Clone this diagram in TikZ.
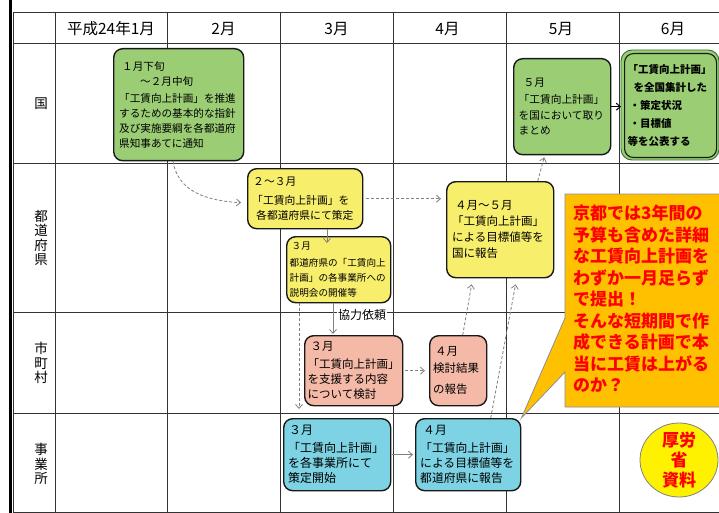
\documentclass[tikz,border=0pt]{standalone}
\usepackage{fontspec}
\setmainfont{Noto Sans CJK JP}
\usetikzlibrary{arrows.meta,shapes.geometric}
\definecolor{gfill}{HTML}{9ACD74}
\definecolor{yfill}{HTML}{F7EE6C}
\definecolor{pfill}{HTML}{F4B9A7}
\definecolor{cfill}{HTML}{7DD3E3}
\definecolor{callfill}{HTML}{FFC000}
\definecolor{callline}{HTML}{8C8C9E}
\definecolor{conn}{HTML}{808080}
\definecolor{gridc}{HTML}{333333}
\newcommand\jfs[2]{\fontsize{#1}{#2}\selectfont}
\begin{document}
\begin{tikzpicture}[x=1pt,y=-1pt,
  box/.style={draw=black!90, line width=1.4pt, rounded corners=9pt, anchor=north west,
              inner xsep=0pt, inner ysep=0pt, align=left, text=black},
  garrow/.style={draw=conn, line width=0.8pt, -{Straight Barb[length=4pt,width=7pt]}},
  gdash/.style={garrow, dash pattern=on 3pt off 2pt},
  gridline/.style={draw=gridc, line width=0.8pt},
  rowlabel/.style={font=\jfs{13.5}{14.5}, align=center, inner sep=0pt},
  headlabel/.style={font=\jfs{15.5}{17}, inner sep=0pt}]
\useasboundingbox (0,0) rectangle (719,513);
\fill[white] (0,0) rectangle (719,513);

% grid
\fill[black] (8.5,0) rectangle (11.5,513);
\foreach \y in {12,43,163,312,413,512} \draw[gridline] (13,\y) -- (719,\y);
\foreach \x in {13,55,167,280,393,506,619} \draw[gridline] (\x,12) -- (\x,513);

% headers
\node[headlabel] (h1) at (111,29) {平成24年1月};
\node[headlabel] (h2) at (223.5,29) {2月};
\node[headlabel] (h3) at (336.5,29) {3月};
\node[headlabel] (h4) at (447.5,29) {4月};
\node[headlabel] (h5) at (561,29) {5月};
\node[headlabel] (h6) at (673,29) {6月};

% row labels
\node[rowlabel] (r1) at (41,104) {国};
\node[rowlabel] (r2) at (41,238) {都\\道\\府\\県};
\node[rowlabel] (r3) at (41,363) {市\\町\\村};
\node[rowlabel] (r4) at (41,464) {事\\業\\所};

% 国 row
\node[box, fill=gfill, minimum width=130pt, minimum height=112pt, text width=119pt,
      font=\jfs{10.6}{14.8}] (n1) at (113,48)
  {\hspace*{3pt}１月下旬\\\hspace*{21pt}～２月中旬\\[3pt]「工賃向上計画」を推進\\するための基本的な指針\\及び実施要綱を各都道府\\県知事あてに通知};
\node[box, fill=gfill, minimum width=97pt, minimum height=96pt, text width=87pt,
      font=\jfs{10.7}{15.5}] (n2) at (513,58)
  {\hspace*{5pt}５月\\[1.5pt]「工賃向上計画」\\を国において取り\\まとめ};
\fill[gfill, draw=black!60!green!60!gray, line width=0.9pt, rounded corners=11pt] (621,50) rectangle (719,160);
\node[box, fill=gfill, line width=1.1pt, minimum width=92pt, minimum height=104pt, text width=86pt,
      font=\bfseries\jfs{10.5}{18}] (n3) at (624,53)
  {「工賃向上計画」\\\hspace*{6pt}を全国集計した\\\hspace*{2pt}・策定状況\\\hspace*{2pt}・目標値\\等を公表する};

% 都道府県 row
\node[box, fill=yfill, minimum width=115pt, minimum height=60pt, text width=106pt,
      font=\jfs{10.8}{14.5}] (n4) at (247,168)
  {\hspace*{1pt}２～３月\\[5pt]「工賃向上計画」を\\\hspace*{4pt}各都道府県にて策定};
\node[box, fill=yfill, minimum width=104pt, minimum height=66pt, text width=98pt,
      font=\jfs{9.6}{15}] (n5) at (286,236)
  {\hspace*{2pt}３月\\[2pt]都道府県の「工賃向上\\計画」の各事業所への\\説明会の開催等};
\node[box, fill=yfill, minimum width=107pt, minimum height=96pt, text width=96pt,
      font=\jfs{11.5}{16}] (n6) at (446,181)
  {\hspace*{3pt}４月～５月\\「工賃向上計画」\\による目標値等を\\国に報告};

% 市町村 row
\node[box, fill=pfill, minimum width=98pt, minimum height=70pt, text width=92pt,
      font=\jfs{11.5}{15}] (n7) at (304,335)
  {\hspace*{3pt}３月\\[3pt]「工賃向上計画」\\を支援する内容\\について検討};
\node[box, fill=pfill, minimum width=57pt, minimum height=70pt, text width=50pt,
      font=\jfs{11.5}{16}] (n8) at (429,335)
  {\hspace*{2pt}４月\\[1pt]検討結果\\[5pt]の報告};

% 事業所 row
\node[box, fill=cfill, minimum width=107pt, minimum height=72pt, text width=98pt,
      font=\jfs{12}{15}] (n9) at (283,418)
  {\hspace*{1pt}３月\\[3pt]「工賃向上計画」\\を各事業所にて\\策定開始};
\node[box, fill=cfill, minimum width=105pt, minimum height=72pt, text width=96pt,
      font=\jfs{11.8}{15}] (n10) at (415,418)
  {\hspace*{3pt}４月\\[3pt]「工賃向上計画」\\による目標値等を\\都道府県に報告};

% helper x positions
\coordinate (xc) at (327,0);
\coordinate (xd) at (299,0);
\coordinate (xe) at (333,0);

% connectors
\draw[gdash] ([xshift=60pt]n1.south west) .. controls +(5pt,-30pt) and +(-35pt,2pt) .. ([xshift=-6pt,yshift=-4pt]n4.west);
\draw[gdash, shorten >=5pt, shorten <=3pt] (n4.east) -- (n4.east -| n6.west);
\draw[garrow, shorten >=-7pt] (xc |- n4.south) -- (xc |- n5.north);
\draw[gdash, shorten >=9pt] (xd |- n5.south) -- (xd |- n9.north);
\draw[garrow, shorten >=1pt] (xe |- n5.south) -- (xe |- n7.north);
\node[fill=white, inner xsep=1pt, inner ysep=0.5pt, anchor=west, font=\jfs{12}{13}] (lb) at (337,315) {協力依頼};
\draw[gdash, shorten >=4pt, shorten <=2pt] (n7.east) -- (n8.west);
\draw[garrow, shorten >=2pt, shorten <=1pt] (n9.east) -- (n10.west);
\draw[gdash, shorten >=6pt] ([xshift=4.5pt]n8.north) -- ([xshift=-27.5pt]n6.south);
\draw[gdash, shorten >=6pt] ([xshift=22.5pt]n10.north) -- ([xshift=16.5pt]n6.south);
\draw[gdash, shorten >=2pt] ([xshift=37.5pt]n6.north) -- ([xshift=-17.5pt]n2.south);
\draw[black, line width=1pt, -{Straight Barb[length=4pt,width=7pt]}, shorten >=3pt] (n2.east) -- (n2.east -| n3.west);

% callout
\path[fill=callfill, draw=callline, line width=0.8pt]
  (565,194) -- (726,194) -- (726,407) -- (565,407) -- (565,372) -- (n10.north east) -- (565,318) -- cycle;
\node[anchor=west, align=left, inner sep=0pt, text=red, font=\bfseries\jfs{17}{21.5}] (ct) at (573,299)
  {京都では3年間の\\予算も含めた詳細\\な工賃向上計画を\\わずか一月足らず\\で提出！\\そんな短期間で作\\成できる計画で本\\当に工賃は上がる\\のか？};

% stamp
\node[ellipse, draw=gray, line width=0.8pt, fill=yellow, minimum width=78pt, minimum height=74pt, inner sep=0pt] (st) at (679,460) {};
\node[align=center, inner sep=0pt, text=red, font=\bfseries\jfs{17}{20}] (stt) at (st.center) {厚労\\省\\資料};
\end{tikzpicture}
\end{document}
